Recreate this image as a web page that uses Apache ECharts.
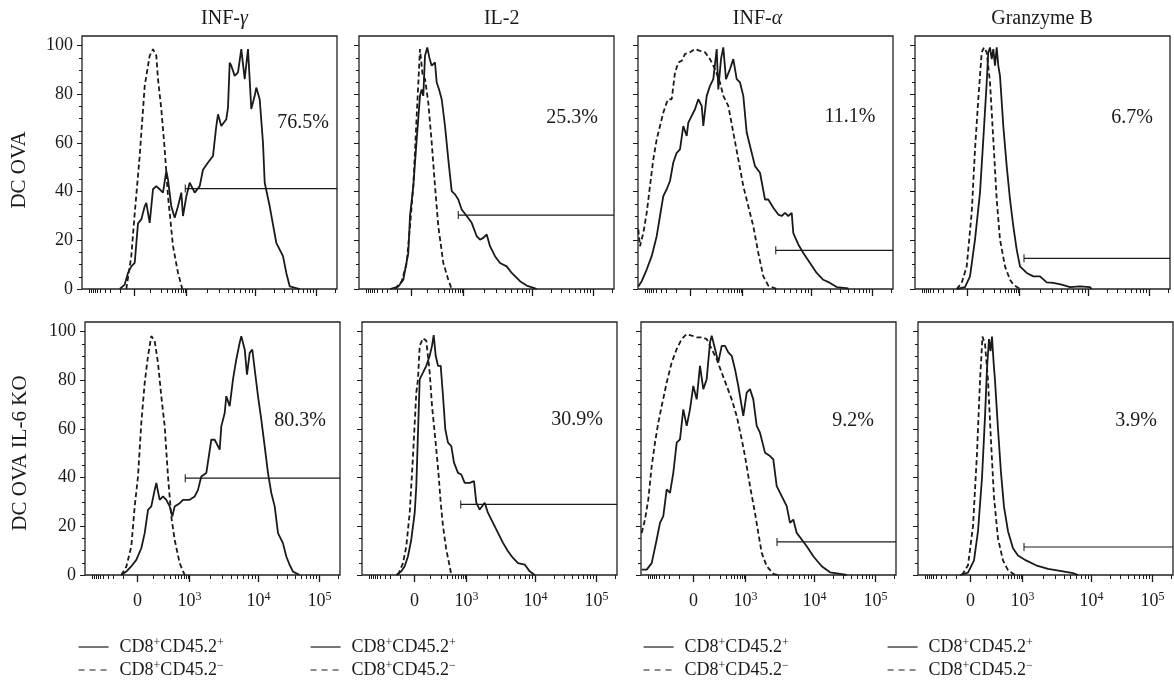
<!DOCTYPE html>
<html><head><meta charset="utf-8">
<script src="https://cdn.jsdelivr.net/npm/echarts@6/dist/echarts.min.js"></script>
<style>html,body{margin:0;padding:0;background:#fff}#c{width:1174px;height:689px}</style>
</head><body><div id="c"></div>
<script>
// ---------- categories / labels ----------
const markers = ['INF-{i|γ}', 'IL-2', 'INF-{i|α}', 'Granzyme B'];
const conditions = ['DC OVA', 'DC OVA IL-6 KO'];
const seriesNames = ['CD8+CD45.2+', 'CD8+CD45.2−'];
const yTicks = [0, 20, 40, 60, 80, 100];
const yMinorTicks = [5,10,15,25,30,35,45,50,55,65,70,75,85,90,95];
// x axis: biexponential display channel (0..255); decade tick positions on that scale
const xTickLabels = ['0', '10^3', '10^4', '10^5'];
const xTickChannels = [52.5, 104.5, 173.5, 234.5];
const pctOva = ['76.5%', '25.3%', '11.1%', '6.7%'];
const pctKo = ['80.3%', '30.9%', '9.2%', '3.9%'];
// gates: start channel and level (% of max)
const gateStartOva = [103.3, 99.3, 137.7, 109];
const gateLevelOva = [41.3, 30.4, 15.9, 12.6];
const gateStartKo = [100.3, 98.7, 136, 106];
const gateLevelKo = [39.8, 29, 13.6, 11.5];

// ---------- histogram data [channel, % of max] ----------
const infgOvaPos = [[37.7,0],[42.7,1.8],[46,6.6],[49.3,9.3],[52.7,10.7],[56,27],[59.3,28.6],[62.7,34],[64.3,35.4],[67.7,27.2],[71,41],[74.3,42.3],[77.7,41],[81,39.6],[84.3,48.5],[86,45],[89.3,34],[92.7,29.3],[96,34],[99.3,39.6],[101,30],[104.3,38],[107.7,43.7],[112.7,39.6],[117.7,42.3],[121,49],[126,52],[131,54.7],[134.3,67],[136,71.8],[139.3,67],[144.3,69.8],[146,74.6],[147.7,93],[149.3,91.8],[152.7,87.6],[156,89],[159.3,98.6],[162.7,86.3],[166,98.6],[169.3,74],[172.7,79.4],[174.3,82.8],[177.7,78],[181,60],[182.7,43.7],[187.7,34],[194.3,19],[201,13.5],[204.3,6.6],[207.7,1.1],[217.7,0]];
const infgOvaNeg = [[44.3,0],[49.3,13.5],[52.7,31],[57.7,54.7],[62.7,83.5],[67.7,95.9],[71,98.6],[74.3,95.9],[76,86.3],[79.3,74],[82.7,57.4],[86,38.2],[91,17.6],[96,6.6],[100.3,0]];
const il2OvaPos = [[31,0],[39.3,1],[44.3,3.8],[49.3,14.8],[51,30],[54.3,42.3],[57.7,61.5],[61,79.4],[62.7,82],[64.3,79.4],[66,95.9],[68.3,99.3],[70.3,95.2],[72.7,91.8],[76,93.1],[77.7,84.9],[80,82.1],[82.7,78],[86,67],[89.3,53.3],[92.7,40.2],[96,38.9],[99.3,36.8],[102.7,32.7],[107.7,30],[112.7,27.2],[117.7,21.7],[121,20.3],[124.3,21],[127.7,22.4],[131,17.6],[136,13.5],[141,10.7],[147.7,9.3],[152.7,6.6],[161,3.2],[167.7,1.4],[176,0.3],[177.7,0]];
const il2OvaNeg = [[36,0],[42.7,3.2],[47.7,10.7],[51,25.8],[54.3,42.3],[57.7,71.2],[61,98.6],[63.7,87.6],[66,86.3],[69.3,76.6],[72.7,60.2],[76,42.3],[79.3,25.8],[84.3,10.7],[89.3,3.8],[92.7,0]];
const infaOvaPos = [[0.3,1],[3.7,3.2],[8.7,8],[13.7,13.5],[18.7,21.7],[22,30],[25.3,38.2],[28.7,41],[32,44.4],[35.3,52],[38.7,56],[42,57.4],[45.3,67],[48.7,62.9],[50.3,68.4],[53.7,71.2],[57,73.9],[60.3,78],[63.7,75.3],[65.3,67],[68.7,79.4],[72,83.5],[75.3,86.3],[78.7,98.6],[80.3,82],[83,94.5],[85.3,99.3],[88,86.3],[92,90.4],[95.3,94.5],[98.7,86.3],[102,84.9],[105.3,79.4],[108.7,64.3],[113.7,56],[117,50.5],[122,47.8],[127,36.8],[130.3,36.8],[135.3,33.4],[140.3,30.6],[143.7,30],[147,31.3],[150.3,30],[153.7,31.3],[155.3,23],[160.3,18.3],[165.3,14.8],[172,10.7],[178.7,6.6],[185.3,3.8],[192,2.5],[198.7,0.8],[210.3,0.3]];
const infaOvaNeg = [[0.3,24.5],[2,17.6],[5.3,23],[8.7,31.3],[12,42.3],[15.3,53.3],[18.7,61.5],[22,67],[25.3,72.5],[28.7,76.6],[30.3,78],[33.7,78],[37,89],[40.3,93.1],[43.7,93.8],[47,96.6],[52,97.3],[57,98.6],[62,97.9],[67,97.3],[72,94.5],[77,90.4],[82,84.9],[85.3,79.4],[90.3,75.3],[95.3,64.3],[100.3,53.3],[105.3,42.3],[110.3,34],[115.3,25.8],[120.3,14.8],[125.3,5.2],[130.3,1.4],[138.7,0]];
const gzbOvaPos = [[41.7,0],[50,0.8],[55,5.2],[60,20.3],[65,39.6],[68.3,61.5],[71.7,84.9],[73.3,97.3],[75,99.3],[76.7,94.5],[78.3,98.6],[80,91.8],[81.7,99.3],[83.3,91.8],[85,87.6],[88.3,67],[91.7,50.5],[95,36.8],[98.3,25.8],[101.7,16.2],[105,9.3],[111.7,6.6],[118.3,5.2],[125,5.2],[131.7,2.7],[138.3,2.5],[146.7,1.8],[155,0.8],[165,1.1],[175,0.8],[176.7,0]];
const gzbOvaNeg = [[41.7,0],[46.7,2.5],[51.7,9.3],[56.7,31.3],[60,57.4],[63.3,78],[66.7,97.3],[69,99.3],[71.7,97.3],[75,84.9],[78.3,61.5],[81.7,36.8],[85,20.3],[90,9.3],[95,3.8],[98.3,1.8],[105,0]];

const infgKoPos = [[36.3,0],[41.3,1.4],[46,3.4],[51.3,6.2],[56.3,11],[59.7,17.2],[63,26.8],[66.3,28.2],[69.7,35],[71.3,37.8],[74.7,30.9],[78,32.3],[81.3,30.9],[84.7,28.2],[87.3,24],[89.7,28.2],[94.7,29.5],[98,30.9],[104.7,30.9],[109.7,32.3],[113,35],[116.3,40.5],[121.3,41.9],[126.3,55.6],[129.7,55.6],[134.7,51.5],[136.3,61.1],[139.7,66.6],[141.3,73.5],[144.7,69.4],[148,80.4],[151.3,88.6],[154.7,95.5],[156.3,98.2],[159.7,92.7],[162,82.4],[164.7,91.3],[167.3,92.7],[169.7,84.5],[173,73.5],[176.3,63.9],[179.7,52.9],[183,41.9],[186.3,33.7],[189.7,28.2],[193,17.2],[198,13],[201.3,7.6],[204.7,4.1],[208,1.4],[214.7,0]];
const infgKoNeg = [[36.3,0],[41.3,3.4],[46.3,11.7],[49.7,28.2],[53,40.5],[56.3,62.5],[59.7,79],[63,90],[66.3,98.2],[69.7,96.2],[73,87.2],[76.3,73.5],[79.7,61.1],[83,40.5],[86.3,24],[89.7,14.4],[94.7,4.8],[99.7,0]];
const il2KoPos = [[34.3,0],[39.3,1.5],[42.7,3.6],[46,7.7],[49.3,14.6],[52.7,25.5],[54.3,36.5],[57.7,80.5],[61,83.2],[64.3,86],[67.7,90.1],[70,94.2],[71.7,98.6],[73.7,90.1],[76,86],[78.7,86],[81,73.6],[83.3,59.9],[86,54.4],[89.3,53],[92,46.2],[96,42],[99.3,41.3],[102.7,37.9],[107.7,37.9],[112,38.6],[114.3,29.7],[117.7,26.9],[122.7,29.7],[126,25.5],[131,21.4],[136,17.3],[141,13.2],[146,9.8],[151,7],[156,4.9],[162.7,4.3],[167.7,1.5],[172.7,0]];
const il2KoNeg = [[36,0],[41,4.9],[44.3,11.8],[47.7,25.5],[51,48.9],[54.3,75],[56,80.5],[57.7,94.2],[61,97.3],[64.3,96.3],[67.7,83.2],[70,69.5],[72,61.3],[74.3,51.6],[76.7,40.7],[78.7,29.7],[81,20.1],[84.3,10.4],[87.7,3.6],[89.3,0]];
const infaKoPos = [[0.7,2.2],[5.7,2.2],[10.7,4.9],[15.7,14.6],[19,21.4],[22.3,24.2],[25.7,35.2],[29,33.8],[32.3,42],[35.7,54.4],[39,55.8],[42.3,68.1],[45.7,61.3],[49,68.1],[52.3,77.7],[55.7,72.2],[59,86],[62.3,76.4],[65.7,80.5],[69,95.6],[70.7,98.4],[74,92.9],[77.3,87.4],[80.7,94.2],[84,94.2],[87.3,91.5],[90.7,90.1],[94,84.6],[97.3,77.7],[102.3,65.4],[105.7,75],[109,76.4],[112.3,72.2],[115.7,61.3],[119,58.5],[124,50.3],[129,48.9],[132.3,47.5],[135.7,36.5],[140.7,32.4],[145.7,28.3],[149,21.4],[152.3,22.8],[155.7,17.3],[160.7,14.6],[165.7,11.8],[172.3,7.7],[180.7,3.6],[189,1.1],[199,0.5],[205.7,0]];
const infaKoNeg = [[0.7,17.3],[4,22.8],[7.3,31],[10.7,44.8],[14,54.4],[17.3,62.6],[20.7,69.5],[25.7,79.1],[30.7,87.4],[35.7,92.9],[40.7,97],[45.7,99],[50.7,98.4],[55.7,97.7],[60.7,97.7],[65.7,97],[70.7,92.9],[75.7,88.7],[80.7,83.2],[85.7,77.7],[90.7,72.2],[95.7,65.4],[100.7,55.8],[104,48.9],[109,36.5],[114,25.5],[117.3,17.3],[120.7,9.1],[125.7,3.6],[132.3,0.5],[137.3,0]];
const gzbKoPos = [[42,0],[50,1],[56,6],[60,18],[64,40],[67,65],[69,85],[71,97],[72.5,92],[74,98],[75.5,88],[77,80],[80,60],[83,42],[86,28],[90,18],[95,11],[100,8],[108,6],[118,4],[130,2.5],[145,1.5],[155,0.8],[160,0]];
const gzbKoNeg = [[44,0],[50,4],[55,20],[59,50],[62,80],[64.5,98],[67,95],[70,80],[73,55],[76,32],[80,15],[85,6],[90,2],[97,0]];

// ---------- layout ----------
const FONT = '"Liberation Serif","DejaVu Serif",serif';
const INK = '#1a1a1a';
const rowTop = [36, 322];
const rowLeft = [[82, 359, 638, 915], [85, 362, 641, 918]];
const PW = 255, PH = 253, X_MAX = 255, Y_MAX = 104;
const titleX = [224.5, 501.7, 757.5, 1042];
const pctPos = [[[221, 87], [213, 82], [212, 81], [217, 82]], [[215, 99], [215, 98], [212, 99], [218, 99]]];
const legendLeft = [78, 310, 643, 887];
const legendTop = [637, 660];

const panels = [
  [[infgOvaPos, infgOvaNeg], [il2OvaPos, il2OvaNeg], [infaOvaPos, infaOvaNeg], [gzbOvaPos, gzbOvaNeg]],
  [[infgKoPos, infgKoNeg], [il2KoPos, il2KoNeg], [infaKoPos, infaKoNeg], [gzbKoPos, gzbKoNeg]]
];
const pcts = [pctOva, pctKo];
const gateStart = [gateStartOva, gateStartKo];
const gateLevel = [gateLevelOva, gateLevelKo];

// minor x ticks (log spacing between decade positions)
const xMinor = [];
(function () {
  const z = xTickChannels[0], d3 = xTickChannels[1];
  for (let k = 1; k <= 9; k++) {
    const p = z + (d3 - z) * (1 + 0.7 * Math.log10(k / 10));
    xMinor.push(p);
    xMinor.push(z - 0.9 * (p - z));
  }
  for (let i = 1; i < xTickChannels.length; i++) {
    const a = xTickChannels[i];
    const w = i + 1 < xTickChannels.length ? xTickChannels[i + 1] - a : xTickChannels[i] - xTickChannels[i - 1];
    for (let k = 2; k <= 9; k++) {
      const p = a + w * Math.log10(k);
      if (p < X_MAX) xMinor.push(p);
    }
  }
})();

const supRich = { sup: { fontSize: 12, lineHeight: 12, verticalAlign: 'top', fontFamily: FONT, color: INK } };
function xLabel(v) {
  let i = 0, best = 1e9;
  xTickChannels.forEach((t, j) => { if (Math.abs(t - v) < best) { best = Math.abs(t - v); i = j; } });
  return xTickLabels[i].replace(/\^(\d+)/, '{sup|$1}');
}
function legendLabel(name) {
  return name.replace(/\+/g, '{sup|+}').replace(/−/g, '{sup|−}');
}

const grid = [], xAxis = [], yAxis = [], series = [], graphic = [], legend = [];
const tickLine = { color: INK, width: 1 };
for (let r = 0; r < 2; r++) {
  for (let c = 0; c < 4; c++) {
    const g = r * 4 + c;
    grid.push({ left: rowLeft[r][c], top: rowTop[r], width: PW, height: PH, show: true,
      borderColor: '#222', borderWidth: 1.3, backgroundColor: 'rgba(0,0,0,0)' });
    xAxis.push({ gridIndex: g, type: 'value', min: 0, max: X_MAX, position: 'bottom',
      axisLine: { show: false }, splitLine: { show: false },
      axisTick: { show: true, length: 7, inside: false, customValues: xTickChannels, lineStyle: { color: INK, width: 1.3 } },
      axisLabel: { show: r === 1, customValues: xTickChannels, formatter: xLabel, margin: 16,
        fontSize: 18, lineHeight: 20, fontFamily: FONT, color: INK, rich: supRich } });
    xAxis.push({ gridIndex: g, type: 'value', min: 0, max: X_MAX, position: 'bottom',
      axisLine: { show: false }, splitLine: { show: false },
      axisTick: { show: true, length: 4, customValues: xMinor, lineStyle: tickLine },
      axisLabel: { show: false } });
    yAxis.push({ gridIndex: g, type: 'value', min: 0, max: Y_MAX, position: 'left',
      axisLine: { show: false }, splitLine: { show: false },
      axisTick: { show: true, length: 5, customValues: yTicks, lineStyle: tickLine },
      axisLabel: { show: c === 0, customValues: yTicks, margin: 9, fontSize: 18, fontFamily: FONT, color: INK } });
    yAxis.push({ gridIndex: g, type: 'value', min: 0, max: Y_MAX, position: 'left',
      axisLine: { show: false }, splitLine: { show: false },
      axisTick: { show: true, length: 3, customValues: yMinorTicks, lineStyle: tickLine },
      axisLabel: { show: false } });
    const [pos, neg] = panels[r][c];
    const xi = 2 * g, yi = 2 * g;
    series.push({ type: 'line', name: seriesNames[0], xAxisIndex: xi, yAxisIndex: yi, data: pos,
      symbol: 'none', lineStyle: { color: INK, width: 1.8 }, itemStyle: { color: INK }, z: 3 });
    series.push({ type: 'line', name: seriesNames[1], xAxisIndex: xi, yAxisIndex: yi, data: neg,
      symbol: 'none', lineStyle: { color: INK, width: 1.8, type: [5, 3] }, itemStyle: { color: INK }, z: 3 });
    const gx = gateStart[r][c], gy = gateLevel[r][c];
    series.push({ type: 'line', xAxisIndex: xi, yAxisIndex: yi, data: [[gx, gy], [X_MAX, gy]],
      symbol: 'none', lineStyle: { color: INK, width: 1.2 }, z: 4 });
    series.push({ type: 'scatter', xAxisIndex: xi, yAxisIndex: yi, data: [[gx, gy]],
      symbol: 'rect', symbolSize: [1.3, 8], itemStyle: { color: INK }, z: 4 });
    graphic.push({ type: 'text', x: rowLeft[r][c] + pctPos[r][c][0], y: rowTop[r] + pctPos[r][c][1],
      style: { text: pcts[r][c], font: '20px ' + FONT, fill: INK, align: 'center', verticalAlign: 'middle' } });
  }
}
for (let c = 0; c < 4; c++) {
  graphic.push({ type: 'text', x: titleX[c], y: 19,
    style: { text: markers[c], fontSize: 20, fontFamily: FONT, fill: INK, align: 'center', verticalAlign: 'middle',
      rich: { i: { fontStyle: 'italic', fontSize: 20, fontFamily: FONT, fill: INK } } } });
  for (let s = 0; s < 2; s++) {
    legend.push({ orient: 'horizontal', left: legendLeft[c], top: legendTop[s], padding: 0,
      itemWidth: 30, itemHeight: 14, selectedMode: false,
      data: [{ name: seriesNames[s], lineStyle: s === 1 ? { type: [6, 5], width: 1.2 } : { width: 1.2 } }],
      itemStyle: { color: 'rgba(0,0,0,0)', borderColor: 'rgba(0,0,0,0)', borderWidth: 0, opacity: 0 },
      formatter: legendLabel,
      textStyle: { fontSize: 18, lineHeight: 20, fontFamily: FONT, color: INK, padding: [0, 0, 0, 6], rich: supRich } });
  }
}
const yNameX = 19;
graphic.push({ type: 'text', x: yNameX, y: 170, rotation: Math.PI / 2,
  style: { text: conditions[0], fontSize: 21, fontFamily: FONT, fill: INK, align: 'center', verticalAlign: 'middle' } });
graphic.push({ type: 'text', x: yNameX + 1, y: 453, rotation: Math.PI / 2,
  style: { text: conditions[1], fontSize: 21, fontFamily: FONT, fill: INK, align: 'center', verticalAlign: 'middle' } });

const chart = echarts.init(document.getElementById('c'), null, { renderer: 'canvas' });
chart.setOption({ animation: false, backgroundColor: '#fff', grid, xAxis, yAxis, series, graphic, legend });
</script></body></html>
